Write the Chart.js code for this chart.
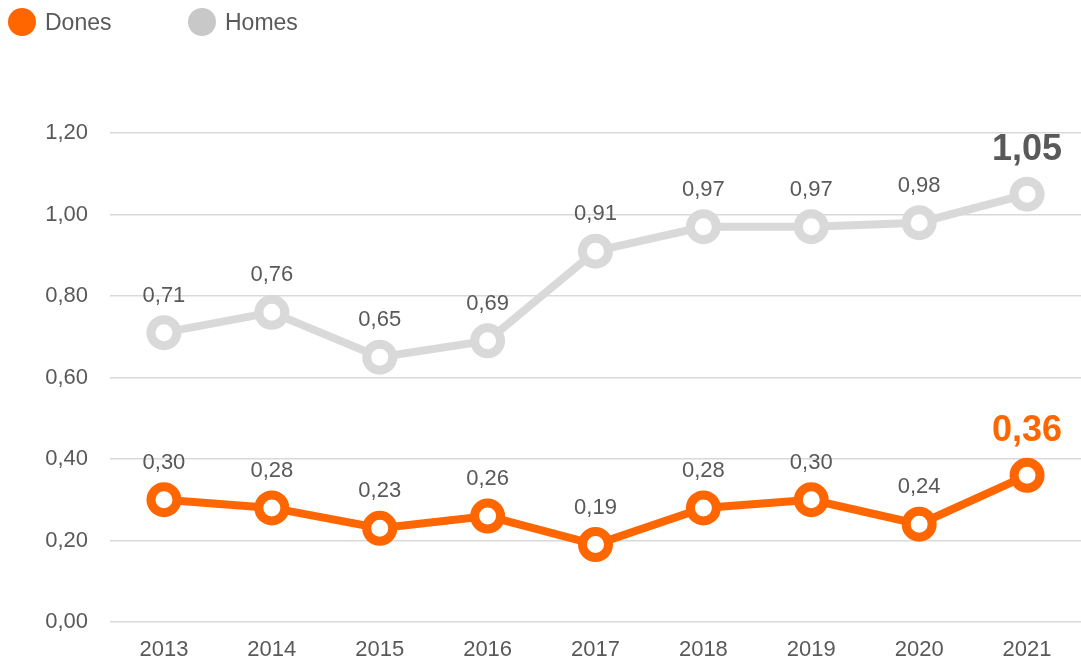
<!DOCTYPE html>
<html>
<head>
<meta charset="utf-8">
<script src="https://cdn.jsdelivr.net/npm/chart.js@4/dist/chart.umd.min.js"></script>
<style>
    html, body { margin: 0; padding: 0; background: #fff; overflow: hidden; }
    #wrap { position: relative; width: 1081px; height: 669px; overflow: hidden; }
    #chart { display: block; }
    .legend { position: absolute; top: 8px; height: 28px; font: 23px "Liberation Sans", Arial, sans-serif; color: #595959; display: flex; align-items: center; }
    .legend span.dot { display: inline-block; width: 28px; height: 28px; border-radius: 50%; margin-right: 9px; }
</style>
</head>
<body>
<div id="wrap">
    <div class="legend" style="left:8px"><span class="dot" style="background:#ff6600"></span>Dones</div>
    <div class="legend" style="left:188px"><span class="dot" style="background:#c8c8c8"></span>Homes</div>
    <canvas id="chart" width="1081" height="669"></canvas>
</div>
<script>
// dades
const years = ['2013', '2014', '2015', '2016', '2017', '2018', '2019', '2020', '2021'];
const dones = [0.30, 0.28, 0.23, 0.26, 0.19, 0.28, 0.30, 0.24, 0.36];
const homes = [0.71, 0.76, 0.65, 0.69, 0.91, 0.97, 0.97, 0.98, 1.05];

const FONT = '"Liberation Sans", Arial, sans-serif';
const TEXT = '#595959';

function fmt(v) {
    return v.toFixed(2).replace('.', ',');
}

// etiquetes de valor sobre cada punt
const valueLabels = {
    id: 'valueLabels',
    afterDatasetsDraw: function(chart) {
        const ctx = chart.ctx;
        ctx.save();
        ctx.textAlign = 'center';
        ctx.textBaseline = 'middle';
        chart.data.datasets.forEach((ds, i) => {
            const meta = chart.getDatasetMeta(i);
            meta.data.forEach((pt, j) => {
                const last = j === ds.data.length - 1;
                if (last) {
                    ctx.font = 'bold 36px ' + FONT;
                    ctx.fillStyle = ds.lastColor;
                    ctx.fillText(fmt(ds.data[j]), pt.x, pt.y - 44);
                } else {
                    ctx.font = '22px ' + FONT;
                    ctx.fillStyle = TEXT;
                    ctx.fillText(fmt(ds.data[j]), pt.x, pt.y - 37);
                }
            });
        });
        ctx.restore();
    }
};

new Chart(document.getElementById('chart'), {
    type: 'line',
    data: {
        labels: years,
        datasets: [{
            label: 'Homes',
            data: homes,
            borderColor: '#d9d9d9',
            backgroundColor: '#ffffff',
            pointBorderColor: '#d9d9d9',
            pointBackgroundColor: '#ffffff',
            borderWidth: 8,
            pointRadius: 13,
            pointBorderWidth: 9,
            lastColor: TEXT
        }, {
            label: 'Dones',
            data: dones,
            borderColor: '#ff6600',
            backgroundColor: '#ffffff',
            pointBorderColor: '#ff6600',
            pointBackgroundColor: '#ffffff',
            borderWidth: 8,
            pointRadius: 13,
            pointBorderWidth: 9,
            lastColor: '#ff6600'
        }]
    },
    options: {
        responsive: false,
        animation: false,
        layout: { autoPadding: false, padding: { top: 133, left: 0, right: -4, bottom: 0 } },
        plugins: {
            legend: { display: false },
            tooltip: { enabled: false }
        },
        scales: {
            x: {
                offset: true,
                afterFit: function(scale) { scale.height = 47; },
                grid: { display: false },
                border: { display: false },
                ticks: { color: TEXT, font: { family: FONT, size: 22 }, padding: 7 }
            },
            y: {
                min: 0,
                max: 1.2,
                afterFit: function(scale) { scale.width = 110; },
                grid: { color: '#d9d9d9', lineWidth: 1.5, drawTicks: false },
                border: { display: false },
                ticks: {
                    stepSize: 0.2,
                    color: TEXT,
                    padding: 22,
                    font: { family: FONT, size: 22 },
                    callback: function(v) { return fmt(v); }
                }
            }
        }
    },
    plugins: [valueLabels]
});
</script>
</body>
</html>
